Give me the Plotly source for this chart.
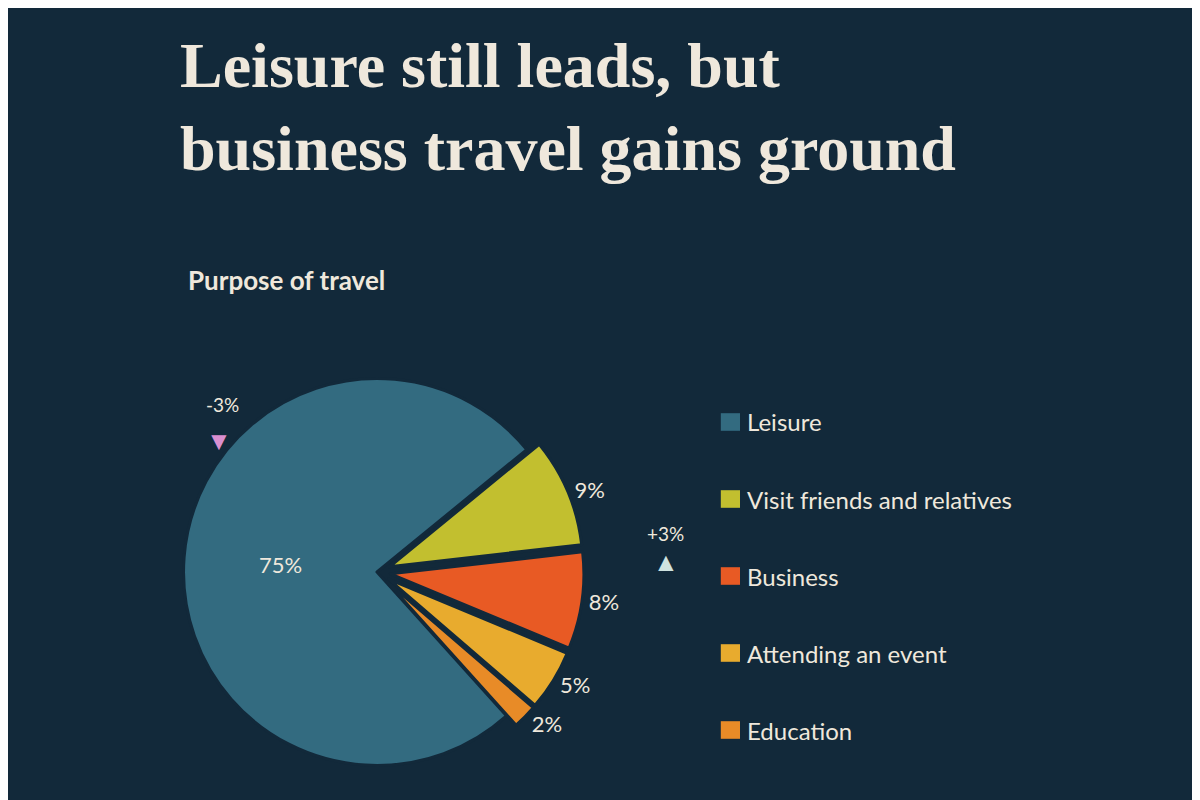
import plotly.graph_objects as go

categories = ["Leisure", "Visit friends and relatives", "Business", "Attending an event", "Education"]
values = [75, 9, 8, 5, 2]
colors = ["#336b80", "#c2bf2f", "#e85a24", "#e8ab2e", "#e88b27"]
changes = [("-3%", "▼", "#d98fd0", 0.163, 0.505, 0.46), ("+3%", "▲", "#cfe3e0", 0.548, 0.326, 0.284)]

BG = "#12293a"
TXT = "#efe8dc"

fig = go.Figure()
fig.add_trace(go.Pie(
    labels=categories, values=values, sort=False, direction="clockwise", rotation=138,
    marker=dict(colors=colors, line=dict(color=BG, width=3)),
    pull=[0, 0.07, 0.07, 0.07, 0.07],
    text=[f"{v}%" for v in values], textinfo="text",
    textposition=["inside", "outside", "outside", "outside", "outside"],
    insidetextfont=dict(color=TXT, size=22, family="Lato"),
    outsidetextfont=dict(color=TXT, size=22, family="Lato"),
    insidetextorientation="horizontal",
    domain=dict(x=[0.135, 0.48], y=[0.03, 0.56]),
    showlegend=False, hoverinfo="label+percent",
))

ann = [
    dict(text="<b>Leisure still leads, but<br>business travel gains ground</b>", x=0.142, y=0.975,
         xref="paper", yref="paper", xanchor="left", yanchor="top", showarrow=False, align="left",
         font=dict(family="Liberation Serif", size=64, color=TXT)),
    dict(text="<b>Purpose of travel</b>", x=0.148, y=0.66, xref="paper", yref="paper",
         xanchor="left", yanchor="middle", showarrow=False, font=dict(family="Lato", size=26, color=TXT)),
]
shapes = []
for i, (c, col) in enumerate(zip(categories, colors)):
    yc = 1 - (414 + i * 77) / 800
    shapes.append(dict(type="rect", xref="paper", yref="paper", x0=0.594, x1=0.61,
                       y0=yc - 0.011, y1=yc + 0.011, fillcolor=col, line=dict(width=0)))
    ann.append(dict(text=c, x=0.614, y=yc, xref="paper", yref="paper", xanchor="left",
                    yanchor="middle", showarrow=False, font=dict(family="Lato", size=24, color=TXT)))
for lab, sym, col, x, yl, yt in changes:
    ann.append(dict(text=lab, x=x, y=yl, xref="paper", yref="paper", showarrow=False,
                    font=dict(family="Lato", size=19, color=TXT)))
    ann.append(dict(text=sym, x=x, y=yt, xref="paper", yref="paper", showarrow=False,
                    font=dict(size=26, color=col)))

fig.update_layout(width=1200, height=800, paper_bgcolor=BG, plot_bgcolor=BG,
                  margin=dict(l=0, r=0, t=0, b=0), annotations=ann, shapes=shapes)
fig.write_html("out.html")
